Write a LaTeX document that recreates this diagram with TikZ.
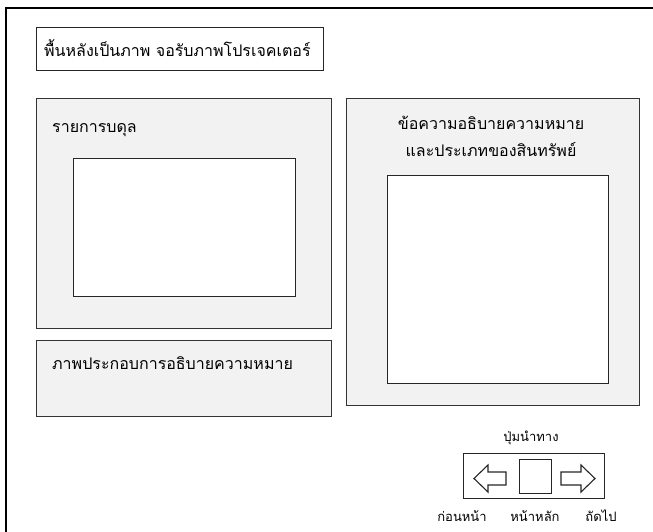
\documentclass[tikz,border=0pt]{standalone}
\usepackage{fontspec}
\newfontfamily\thaifont[Script=Thai]{Loma}
\usetikzlibrary{positioning}
\tikzset{
  panel/.style={draw=black!80, line width=1.1pt, fill=black!5, anchor=north west, inner sep=0pt},
  screen/.style={draw=black!85, line width=1.1pt, fill=white, anchor=north west, inner sep=0pt},
  thaitext/.style={font=\thaifont\fontsize{16}{18}\selectfont, inner sep=1pt},
  smalltext/.style={font=\thaifont\fontsize{13}{15}\selectfont, inner sep=1pt},
  navarrow/.style={draw=black!85, line width=1.1pt, fill=white, line join=miter},
}
\begin{document}
\begin{tikzpicture}[x=1pt,y=-1pt]
\useasboundingbox (0,0) rectangle (653,531);
\clip (0,0) rectangle (653,531);
% outer frame
\draw[line width=2pt] (6,700) |- (700,8);
% title
\node[screen, minimum width=287pt, minimum height=43pt] (title) at (36,27) {};
\node[thaitext, anchor=west] (titletext) at (43,48.5) {พื้นหลังเป็นภาพ จอรับภาพโปรเจคเตอร์};
% balance list
\node[panel, minimum width=295pt, minimum height=230pt] (balance) at (36,98) {};
\node[thaitext, anchor=west] (balancetext) at (51,130) {รายการบดุล};
\node[screen, minimum width=222pt, minimum height=138pt] (balancescreen) at (73,158) {};
% picture
\node[panel, minimum width=295pt, minimum height=76pt] (picture) at (36,340) {};
\node[thaitext, anchor=west] (picturetext) at (51,363) {ภาพประกอบการอธิบายความหมาย};
% meaning
\node[panel, minimum width=293pt, minimum height=307pt] (meaning) at (346,98) {};
\node[thaitext] (meaningtext) at (491,123) {ข้อความอธิบายความหมาย};
\node[thaitext] (typetext) at (491,150) {และประเภทของสินทรัพย์};
\node[screen, minimum width=221pt, minimum height=208pt] (meaningscreen) at (387,175) {};
% navigation
\node[smalltext] (navtext) at (531,438) {ปุ่มนำทาง};
\node[screen, minimum width=141pt, minimum height=45pt] (nav) at (463,453) {};
\draw[navarrow] (474,478.5) -- (488,465) -- (488,472) -- (506,472) -- (506,485)
  -- (488,485) -- (488,492) -- cycle;
\node[screen, minimum width=32pt, minimum height=34pt] (home) at (519,459) {};
\draw[navarrow] (595,478.5) -- (581,465) -- (581,472) -- (561,472) -- (561,485)
  -- (581,485) -- (581,492) -- cycle;
\node[smalltext] (prevtext) at (462,516) {ก่อนหน้า};
\node[smalltext] (hometext) at (535,516) {หน้าหลัก};
\node[smalltext] (nexttext) at (601,516) {ถัดไป};
\end{tikzpicture}
\end{document}
